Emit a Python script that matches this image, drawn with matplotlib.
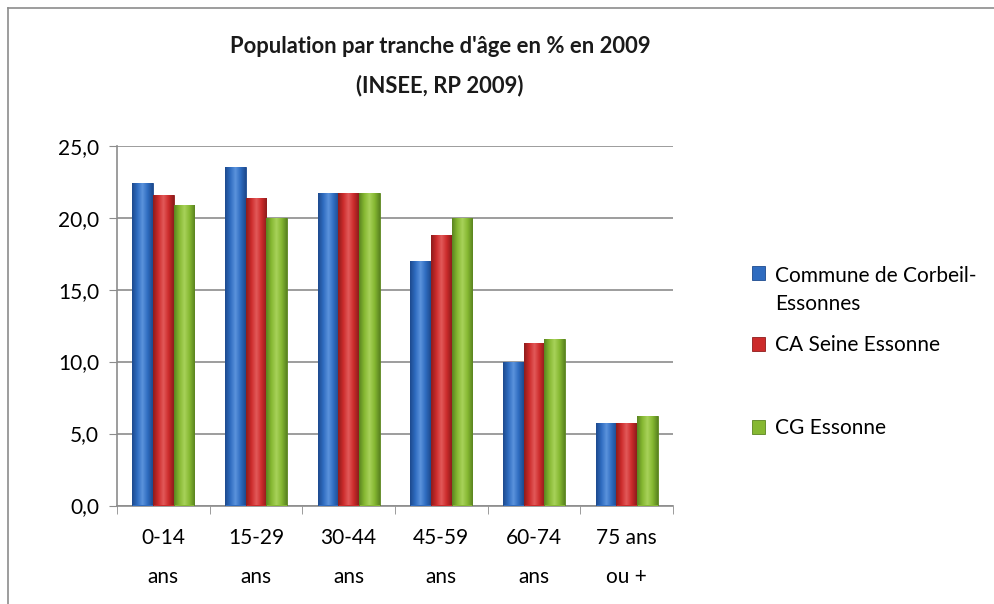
import numpy as np
import matplotlib
matplotlib.use("Agg")
import matplotlib.pyplot as plt
from matplotlib.lines import Line2D
from matplotlib.colors import LinearSegmentedColormap
from matplotlib.ticker import FuncFormatter, MultipleLocator, FixedLocator

plt.rcParams['font.family'] = ['Lato', 'DejaVu Sans']

categories = ["0-14\nans", "15-29\nans", "30-44\nans", "45-59\nans", "60-74\nans", "75 ans\nou +"]
series_names = ["Commune de Corbeil-\nEssonnes", "CA Seine Essonne", "CG Essonne"]
corbeil = [22.4, 23.5, 21.7, 17.0, 10.0, 5.7]
ca_seine = [21.6, 21.4, 21.7, 18.8, 11.3, 5.7]
cg_essonne = [20.9, 20.0, 21.7, 20.0, 11.6, 6.2]
title = "Population par tranche d'âge en % en 2009\n(INSEE, RP 2009)"

base_colors = ["#2f6cc0", "#cc2b2b", "#86b832"]
dark_colors = ["#1d4a8e", "#8e1c1c", "#5a8420"]
light_colors = ["#5b93dc", "#e25a5a", "#a8d25a"]

fig = plt.figure(figsize=(9.94, 6.04), dpi=100)
border = "#8c8c8c"
fig.lines.append(Line2D([8/994, 8/994], [0, 1 - 8/604], transform=fig.transFigure, color=border, lw=1.2))
fig.lines.append(Line2D([8/994, 1], [1 - 8/604, 1 - 8/604], transform=fig.transFigure, color=border, lw=1.2))
ax = fig.add_axes([117/994, 1 - 505.5/604, (673 - 117)/994, (505.5 - 145.7)/604])

x = np.arange(len(categories))
w = 1 / 4.5
data = [corbeil, ca_seine, cg_essonne]
handles = []
for i, vals in enumerate(data):
    bars = ax.bar(x + (i - 1) * w, vals, width=w, color=base_colors[i],
                  edgecolor=dark_colors[i], linewidth=0.6, label=series_names[i], zorder=3)
    handles.append(bars)
    cmap = LinearSegmentedColormap.from_list("g%d" % i,
                                             [dark_colors[i], base_colors[i], light_colors[i], base_colors[i], dark_colors[i]])
    grad = np.linspace(0, 1, 64).reshape(1, -1)
    for b in bars:
        im = ax.imshow(grad, extent=(b.get_x(), b.get_x() + b.get_width(), 0, b.get_height()),
                       aspect='auto', cmap=cmap, zorder=3.5)
        im.set_clip_path(b)

ax.set_xlim(-0.5, len(categories) - 0.5)
ax.set_ylim(0, 25)
ax.yaxis.set_major_locator(MultipleLocator(5))
ax.yaxis.set_major_formatter(FuncFormatter(lambda v, p: ("%.1f" % v).replace(".", ",")))
ax.set_xticks(x)
ax.set_xticklabels(categories, fontsize=15, linespacing=2.2)
ax.xaxis.set_minor_locator(FixedLocator(np.arange(-0.5, len(categories), 1)))
ax.tick_params(axis='x', which='major', length=0, pad=16)
ax.tick_params(axis='x', which='minor', length=6, color=border)
ax.tick_params(axis='y', length=6, color=border, labelsize=15, pad=7)
ax.grid(axis='y', color=border, linewidth=1.2, zorder=0)
ax.set_axisbelow(True)
for s in ["top", "right"]:
    ax.spines[s].set_visible(False)
for s in ["left", "bottom"]:
    ax.spines[s].set_color(border)
    ax.spines[s].set_linewidth(1.2)

fig.text(440/994, 1 - 66/604, title, ha='center', va='center', fontsize=15.8,
         fontweight='bold', linespacing=2.0, color="#1a1a1a")

legend_y = [1 - 290/604, 1 - 345/604, 1 - 428/604]
for i in range(3):
    leg = fig.legend([handles[i]], [series_names[i]], loc='center left',
                     bbox_to_anchor=(733/994, legend_y[i]), frameon=False, fontsize=15,
                     handlelength=0.65, handleheight=0.65, handletextpad=0.45)
    for t in leg.get_texts():
        t.set_linespacing(1.5)
    if i == 0:
        for row in leg._legend_handle_box.get_children():
            for hp in row.get_children():
                hp.align = 'top'

fig.savefig("out.png", dpi=100)
